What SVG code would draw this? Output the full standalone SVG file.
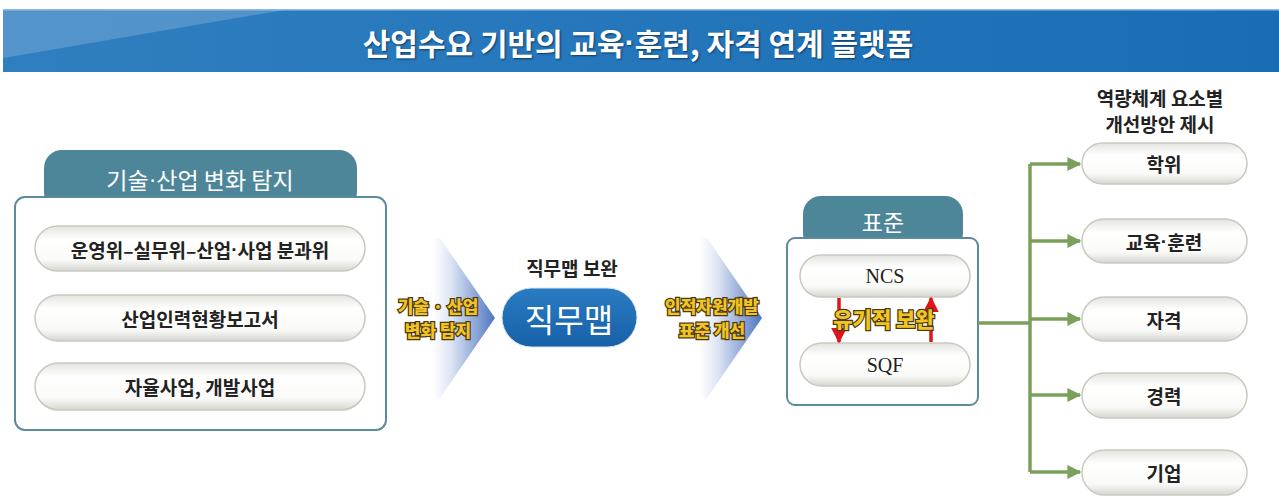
<svg xmlns="http://www.w3.org/2000/svg" width="1279" height="497" viewBox="0 0 1279 497">
<defs>
<linearGradient id="hdr" x1="0" y1="0" x2="1" y2="0">
<stop offset="0" stop-color="#2f7fc0"/><stop offset="1" stop-color="#1a6db5"/>
</linearGradient>
<linearGradient id="pill" x1="0" y1="0" x2="0" y2="1">
<stop offset="0" stop-color="#e4e4de"/><stop offset="0.3" stop-color="#ffffff"/><stop offset="0.75" stop-color="#fafaf8"/><stop offset="1" stop-color="#d6d6cf"/>
</linearGradient>
<linearGradient id="chev" x1="0" y1="0" x2="1" y2="0">
<stop offset="0" stop-color="#ffffff"/><stop offset="0.3" stop-color="#dbe3f3"/><stop offset="1" stop-color="#4f76c0"/>
</linearGradient>
<linearGradient id="jm" x1="0" y1="0" x2="0" y2="1">
<stop offset="0" stop-color="#2a7cc2"/><stop offset="1" stop-color="#1760a8"/>
</linearGradient>
<marker id="ga" viewBox="0 0 10 10" refX="9" refY="5" markerWidth="4" markerHeight="4" orient="auto" markerUnits="strokeWidth">
<path d="M0,0 L10,5 L0,10 z" fill="#7ba05b"/>
</marker>
<marker id="ra" viewBox="0 0 10 10" refX="9" refY="5" markerWidth="4.5" markerHeight="4.5" orient="auto" markerUnits="strokeWidth">
<path d="M0,0 L10,5 L0,10 z" fill="#e0141a"/>
</marker>
</defs>
<style>
.pill{fill:url(#pill);stroke:#c9c9c2;stroke-width:1.5}
.pt{font-family:"Noto Sans CJK KR","Noto Sans",sans-serif;font-weight:700;font-size:19px;fill:#222;text-anchor:middle;dominant-baseline:central}
.ser{font-family:"Liberation Serif",serif;font-size:20px;fill:#222;text-anchor:middle;dominant-baseline:central}
.tab{fill:#4e8699}
.box{fill:#fff;stroke:#5b8b9d;stroke-width:2}
.tabt{font-family:"Noto Sans CJK KR",sans-serif;font-size:23px;fill:#fff;text-anchor:middle;dominant-baseline:central}
.yel{font-family:"Noto Sans CJK KR",sans-serif;font-weight:900;font-size:17px;fill:#f2c423;stroke:#4a3a10;stroke-width:2.5;paint-order:stroke;text-anchor:middle;dominant-baseline:central}
.hd{font-family:"Noto Sans CJK KR",sans-serif;font-weight:700;font-size:19px;fill:#222;text-anchor:middle;dominant-baseline:central}
.gl{stroke:#7ba05b;stroke-width:3.5;fill:none}
.dot{font-family:"Liberation Sans",sans-serif}
</style>
<g id="header">
<rect x="3" y="9" width="1276" height="63" fill="url(#hdr)"/>
<polygon points="3,9 290,9 3,58" fill="#ffffff" opacity="0.18"/>
<rect x="3" y="9" width="1276" height="1.5" fill="#8fbde0"/>
<text x="638" y="42" font-family="Noto Sans CJK KR, sans-serif" font-weight="700" font-size="30" fill="#fff" text-anchor="middle" dominant-baseline="central" style="text-shadow:1px 1px 2px #0a3a66">산업수요 기반의 교육<tspan class="dot">·</tspan>훈련, 자격 연계 플랫폼</text>
</g>
<g id="detect">
<rect class="tab" x="44" y="150" width="313" height="60" rx="18"/>
<text class="tabt" x="200" y="179">기술<tspan class="dot">·</tspan>산업 변화 탐지</text>
<rect class="box" x="15" y="197" width="371" height="233" rx="10"/>
<rect class="pill" x="35" y="226" width="330" height="45" rx="22.5"/>
<text class="pt" x="200" y="249">운영위–실무위–산업<tspan class="dot">·</tspan>사업 분과위</text>
<rect class="pill" x="35" y="295" width="330" height="46" rx="23"/>
<text class="pt" x="200" y="318">산업인력현황보고서</text>
<rect class="pill" x="35" y="363" width="330" height="47" rx="23.5"/>
<text class="pt" x="200" y="386">자율사업, 개발사업</text>
</g>
<g id="arrow1">
<polygon points="433,238 440,238 495,318 440,398 433,398" fill="url(#chev)"/>
<text class="yel" x="438" y="305">기술 · 산업</text>
<text class="yel" x="438" y="329">변화 탐지</text>
</g>
<g id="jobmap">
<text class="hd" x="572" y="267">직무맵 보완</text>
<rect x="502" y="288" width="135" height="59" rx="29.5" fill="url(#jm)" stroke="#d8e4f0" stroke-width="1"/>
<text x="569" y="318" font-family="Noto Sans CJK KR, sans-serif" font-size="32" fill="#fff" text-anchor="middle" dominant-baseline="central">직무맵</text>
</g>
<g id="arrow2">
<polygon points="700,238 707,238 762,318 707,398 700,398" fill="url(#chev)"/>
<text class="yel" x="712" y="305">인적자원개발</text>
<text class="yel" x="712" y="329">표준 개선</text>
</g>
<g id="standard">
<rect class="tab" x="803" y="196" width="160" height="55" rx="18"/>
<text class="tabt" x="883" y="221">표준</text>
<rect class="box" x="787" y="238" width="191" height="167" rx="8"/>
<rect class="pill" x="800" y="255" width="170" height="42" rx="21"/>
<text class="ser" x="885" y="276">NCS</text>
<rect class="pill" x="800" y="343" width="170" height="43" rx="21.5"/>
<text class="ser" x="885" y="365">SQF</text>
<line x1="839" y1="298" x2="839" y2="342" stroke="#e0141a" stroke-width="3.5" marker-end="url(#ra)"/>
<line x1="931" y1="342" x2="931" y2="298" stroke="#e0141a" stroke-width="3.5" marker-end="url(#ra)"/>
<text class="yel" x="884" y="318" style="font-size:21px">유기적 보완</text>
</g>
<g id="connectors">
<path class="gl" d="M978,323 H1030 M1030,164 V472"/>
<line class="gl" x1="1030" y1="164" x2="1080" y2="164" marker-end="url(#ga)"/>
<line class="gl" x1="1030" y1="241" x2="1080" y2="241" marker-end="url(#ga)"/>
<line class="gl" x1="1030" y1="319" x2="1080" y2="319" marker-end="url(#ga)"/>
<line class="gl" x1="1030" y1="395" x2="1080" y2="395" marker-end="url(#ga)"/>
<line class="gl" x1="1030" y1="472" x2="1080" y2="472" marker-end="url(#ga)"/>
</g>
<g id="elements">
<text class="hd" x="1160" y="97">역량체계 요소별</text>
<text class="hd" x="1160" y="123">개선방안 제시</text>
<rect class="pill" x="1082" y="143" width="165" height="41" rx="20.5"/>
<text class="pt" x="1164" y="163">학위</text>
<rect class="pill" x="1082" y="219" width="165" height="44" rx="22"/>
<text class="pt" x="1164" y="241">교육<tspan class="dot">·</tspan>훈련</text>
<rect class="pill" x="1082" y="297" width="165" height="44" rx="22"/>
<text class="pt" x="1164" y="319">자격</text>
<rect class="pill" x="1082" y="373" width="165" height="45" rx="22.5"/>
<text class="pt" x="1164" y="395">경력</text>
<rect class="pill" x="1082" y="450" width="165" height="45" rx="22.5"/>
<text class="pt" x="1164" y="472">기업</text>
</g>
</svg>
